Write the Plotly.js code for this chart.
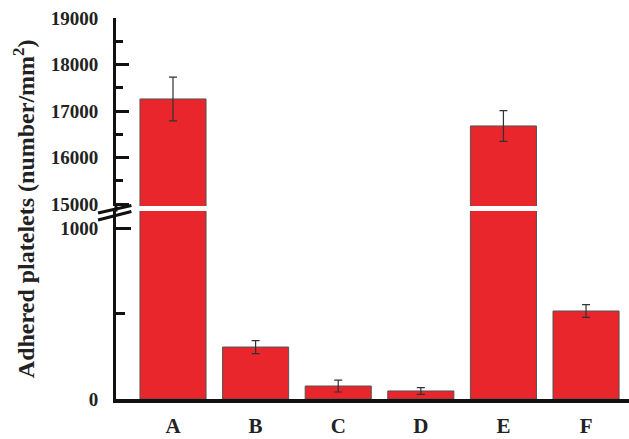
<!DOCTYPE html>
<html>
<head>
<meta charset="utf-8">
<script src="https://cdn.plot.ly/plotly-3.0.1.min.js"></script>
<style>html,body{margin:0;padding:0;background:#fff}#chart{width:629px;height:439px}</style>
</head>
<body>
<div id="chart"></div>
<script>
var categories = ['A', 'B', 'C', 'D', 'E', 'F'];
var values = [17260, 304, 76, 47, 16680, 515];
var errors = [470, 38, 35, 20, 330, 37];
var brokenBars = [true, false, false, false, true, false];
var upperTickVals = [15000, 16000, 17000, 18000, 19000];
var upperTickText = ['15000', '16000', '17000', '18000', '19000'];
var lowerTickVals = [0, 1000];
var lowerTickText = ['0', '1000'];

var barColor = '#e8262b';
var lineColor = '#555555';
var serif = 'Liberation Serif, Times New Roman, serif';

var lowerErr = errors.map(function (e, i) { return brokenBars[i] ? 0 : e; });
var upperErr = errors.map(function (e, i) { return brokenBars[i] ? e : 0; });

var errStyle = function (arr) {
  return { type: 'data', array: arr, visible: true, color: '#333333', thickness: 1.2, width: 4 };
};

var traces = [
  {
    type: 'bar', x: categories, y: values, xaxis: 'x', yaxis: 'y',
    marker: { color: barColor, line: { color: lineColor, width: 1 } },
    error_y: errStyle(lowerErr), cliponaxis: true, hoverinfo: 'skip'
  },
  {
    type: 'bar', x: categories, y: values, xaxis: 'x', yaxis: 'y2',
    marker: { color: barColor, line: { color: lineColor, width: 1 } },
    error_y: errStyle(upperErr), cliponaxis: true, hoverinfo: 'skip'
  }
];

var tickFont = { family: serif, size: 19, color: '#222', weight: 'bold' };

var layout = {
  width: 629, height: 439,
  margin: { l: 116, r: 0, t: 18, b: 40 },
  paper_bgcolor: '#ffffff', plot_bgcolor: '#ffffff',
  showlegend: false, bargap: 0.2,
  font: { family: serif },
  xaxis: {
    range: [-0.69, 5.52], anchor: 'y',
    showline: true, linecolor: '#111', linewidth: 4,
    ticks: '', showgrid: false, zeroline: false,
    tickfont: { family: serif, size: 21, color: '#222', weight: 'bold' },
    ticklabelstandoff: 5
  },
  yaxis: {
    domain: [0, 0.4934], range: [0, 1100],
    tickvals: lowerTickVals, ticktext: lowerTickText,
    ticks: 'inside', ticklen: 15, tickwidth: 3, tickcolor: '#111',
    minor: { dtick: 500, ticks: 'inside', ticklen: 9, tickwidth: 3, tickcolor: '#111' },
    showline: true, linecolor: '#111', linewidth: 3,
    showgrid: false, zeroline: false,
    tickfont: tickFont, ticklabelstandoff: 11
  },
  yaxis2: {
    domain: [0.5066, 1], range: [14960, 19000], anchor: 'x',
    tickvals: upperTickVals, ticktext: upperTickText,
    ticks: 'inside', ticklen: 13, tickwidth: 3, tickcolor: '#111',
    minor: { dtick: 500, ticks: 'inside', ticklen: 7, tickwidth: 3, tickcolor: '#111' },
    showline: true, linecolor: '#111', linewidth: 3,
    showgrid: false, zeroline: false,
    tickfont: tickFont, ticklabelstandoff: 11
  },
  shapes: [
    { type: 'line', xref: 'paper', yref: 'paper', x0: -0.035, x1: 0.03, y0: 0.488, y1: 0.508, line: { color: '#111', width: 3 } },
    { type: 'line', xref: 'paper', yref: 'paper', x0: -0.035, x1: 0.03, y0: 0.470, y1: 0.492, line: { color: '#111', width: 3 } },
    { type: 'line', xref: 'paper', yref: 'paper', x0: 0, x1: 0, y0: 0.492, y1: 0.508, line: { color: '#111', width: 3 } }
  ],
  annotations: [
    {
      text: 'Adhered platelets (number/mm<sup>2</sup>)', textangle: -90,
      xref: 'paper', yref: 'paper', x: -0.18, y: 0.5, xanchor: 'center', yanchor: 'middle',
      showarrow: false, font: { family: serif, size: 24, color: '#222', weight: 'bold' }
    }
  ]
};

Plotly.newPlot('chart', traces, layout, { displayModeBar: false, staticPlot: true });
</script>
</body>
</html>
